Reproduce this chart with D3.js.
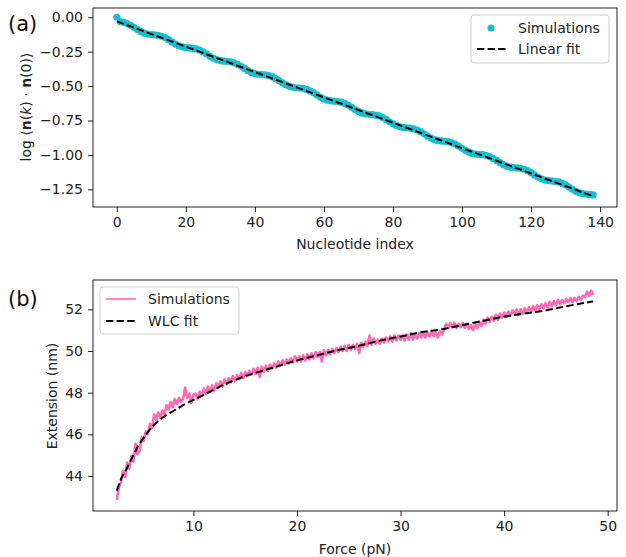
<!DOCTYPE html>
<html><head><meta charset="utf-8">
<script src="https://cdn.jsdelivr.net/npm/d3@7"></script>
<style>
body{margin:0;background:#fff;}
svg text{font-family:"DejaVu Sans",sans-serif;}
</style></head>
<body><svg id="c" width="626" height="557"></svg>
<script>
// ---------- Panel (a) data ----------
const nucleotideIndex = d3.range(0, 139);
const correlationLog = [
 0.000,-0.032,-0.037,-0.046,-0.059,-0.074,-0.090,-0.105,-0.116,-0.122,
-0.126,-0.128,-0.131,-0.138,-0.148,-0.163,-0.179,-0.195,-0.207,-0.216,
-0.221,-0.223,-0.226,-0.230,-0.239,-0.252,-0.267,-0.284,-0.298,-0.309,
-0.315,-0.319,-0.321,-0.324,-0.331,-0.342,-0.356,-0.372,-0.388,-0.401,
-0.409,-0.414,-0.416,-0.419,-0.424,-0.432,-0.445,-0.461,-0.477,-0.491,
-0.502,-0.509,-0.512,-0.514,-0.517,-0.524,-0.535,-0.549,-0.565,-0.581,
-0.594,-0.602,-0.607,-0.610,-0.612,-0.617,-0.626,-0.638,-0.654,-0.670,
-0.684,-0.695,-0.702,-0.705,-0.707,-0.711,-0.717,-0.728,-0.742,-0.759,
-0.774,-0.787,-0.796,-0.800,-0.803,-0.805,-0.810,-0.819,-0.831,-0.847,
-0.863,-0.878,-0.888,-0.895,-0.898,-0.901,-0.904,-0.910,-0.921,-0.936,
-0.952,-0.967,-0.980,-0.989,-0.994,-0.996,-0.998,-1.003,-1.012,-1.025,
-1.040,-1.056,-1.071,-1.082,-1.088,-1.092,-1.094,-1.097,-1.104,-1.114,
-1.129,-1.145,-1.161,-1.173,-1.182,-1.187,-1.189,-1.192,-1.196,-1.205,
-1.218,-1.233,-1.250,-1.264,-1.275,-1.281,-1.285,-1.287,-1.290];
const linearFitX = [0, 138];
const linearFitY = [-0.030, -1.300];
const aXTicks = [0,20,40,60,80,100,120,140];
const aYTicks = [0,-0.25,-0.5,-0.75,-1.0,-1.25];

// ---------- Panel (b) data ----------
const simForceStart = 2.6, simForceStep = 0.2;
const simExtension = [
42.85,43.45,43.70,44.25,43.95,44.65,44.35,44.95,44.70,45.55,45.05,45.20,45.85,45.70,46.15,46.00,46.50,46.30,
46.95,46.70,47.05,46.80,47.15,46.95,47.40,47.20,47.55,47.30,47.70,47.45,47.75,47.55,47.70,48.25,47.75,47.95,47.50,47.90,
47.95,47.70,48.05,47.85,48.20, 47.95,48.30,48.05,48.35,48.10, 48.45,48.25,48.55,48.30,48.65, 48.40,48.70,48.50,48.80,48.55,
48.85,48.65,48.95,48.70,49.00, 48.80,49.05,48.85,49.15,48.90, 49.20,48.75,49.25,49.00,49.30, 49.05,49.35,49.15,49.40,49.20,
49.50,49.30,49.55,49.35,49.60, 49.40,49.65,49.45,49.75,49.50,
49.75,49.50,49.80,49.55,49.85, 49.60,49.90,49.65,49.95,49.70, 49.95,49.50,50.05,49.80,50.05, 49.85,50.10,49.90,50.15,49.95,
50.20,50.00,50.25,50.00,50.30, 50.05,50.30,50.10,50.35,49.90, 50.40,50.20,50.45,50.25,50.75, 50.30,50.60,50.35,50.55,50.35,
50.60,50.40,50.65,50.45,50.70, 50.45,50.75,50.50,50.75,50.55,
50.75,50.50,50.80,50.55,50.85, 50.55,50.80,50.60,50.85,50.65, 50.90,50.65,50.90,50.70,50.95, 50.70,50.90,50.65,50.95,50.80,
51.05,51.30,51.10,51.35,51.15, 51.35,51.10,51.30,51.15,51.35, 51.10,51.30,51.05,51.25,51.00, 51.30,51.10,51.40,51.20,51.50,
51.30,51.60,51.40,51.65,51.45, 51.75,51.50,51.80,51.60,51.85,
51.65,51.90,51.70,51.95,51.75, 52.00,51.75,52.00,51.80,52.05, 51.85,52.10,51.90,52.15,51.95, 52.20,52.00,52.25,52.05,52.30,
52.10,52.35,52.15,52.40,52.20, 52.45,52.25,52.45,52.30,52.50, 52.35,52.55,52.35,52.55,52.40, 52.60,52.45,52.65,52.60,52.85,
52.65,52.90,52.70];
const wlcForce = [2.6,3.0,3.5,4.0,4.5,5.0,5.5,6.0,7.0,8.0,9.0,10,11,12,13,14,15,16,18,20,22,24,26,28,30,32,34,36,38,40,42,44,46,48.6];
const wlcExtension = [43.30,43.85,44.30,44.80,45.30,45.70,46.05,46.35,46.80,47.10,47.40,47.65,47.90,48.15,48.40,48.60,48.80,48.95,49.25,49.55,49.80,50.05,50.25,50.50,50.70,50.90,51.05,51.25,51.45,51.65,51.80,51.95,52.15,52.38];
const bXTicks = [10,20,30,40,50];
const bYTicks = [44,46,48,50,52];

const CYAN = "#17becf", PINK = "#ff69b4";
const svg = d3.select("#c");

function frame(g, x0, y0, x1, y1){
  g.append("rect").attr("x",x0).attr("y",y0).attr("width",x1-x0).attr("height",y1-y0)
   .attr("fill","none").attr("stroke","#222").attr("stroke-width",1);
}
function styleAxis(sel){
  sel.select(".domain").remove();
  sel.selectAll(".tick line").attr("stroke","#222");
  sel.selectAll(".tick text").attr("font-size",14).attr("fill","#222").attr("font-family","DejaVu Sans");
}

// ===== Panel (a) =====
const ax = d3.scaleLinear().domain([-6.9,144.9]).range([93,617]);
const ay = d3.scaleLinear().domain([-1.378,0.067]).range([207,8]);
const ga = svg.append("g");
ga.append("g").attr("transform","translate(0,207)")
  .call(d3.axisBottom(ax).tickValues(aXTicks).tickSize(5).tickPadding(5).tickFormat(d3.format("d"))).call(styleAxis);
ga.append("g").attr("transform","translate(93,0)")
  .call(d3.axisLeft(ay).tickValues(aYTicks).tickSize(5).tickPadding(5).tickFormat(d3.format(".2f"))).call(styleAxis);
ga.append("g").selectAll("circle").data(nucleotideIndex).join("circle")
  .attr("cx",d=>ax(d)).attr("cy",(d,i)=>ay(correlationLog[i])).attr("r",3.6).attr("fill",CYAN);
ga.append("path").datum(linearFitX.map((x,i)=>[x,linearFitY[i]]))
  .attr("d",d3.line().x(d=>ax(d[0])).y(d=>ay(d[1])))
  .attr("fill","none").attr("stroke","#000").attr("stroke-width",2).attr("stroke-dasharray","7.4,3.2");
frame(ga,93,8,617,207);
ga.append("text").attr("x",355).attr("y",249).attr("text-anchor","middle").attr("font-size",14).attr("fill","#222").text("Nucleotide index");
const yl = ga.append("text").attr("transform","translate(31,107) rotate(-90)").attr("text-anchor","middle").attr("font-size",14).attr("fill","#222");
yl.append("tspan").text("log \u27E8");
yl.append("tspan").attr("font-weight","bold").text("n");
yl.append("tspan").text("(");
yl.append("tspan").attr("font-style","italic").text("k");
yl.append("tspan").text(") \u00B7 ");
yl.append("tspan").attr("font-weight","bold").text("n");
yl.append("tspan").text("(0)\u27E9");
// legend a
const la = ga.append("g");
la.append("rect").attr("x",471).attr("y",15).attr("width",138).attr("height",48).attr("rx",3)
  .attr("fill","#fff").attr("fill-opacity",0.8).attr("stroke","#ccc");
la.append("circle").attr("cx",491).attr("cy",28).attr("r",3.6).attr("fill",CYAN);
la.append("line").attr("x1",477).attr("x2",507).attr("y1",49).attr("y2",49)
  .attr("stroke","#000").attr("stroke-width",2).attr("stroke-dasharray","7.4,3.2");
la.append("text").attr("x",518).attr("y",33).attr("font-size",14).attr("fill","#222").text("Simulations");
la.append("text").attr("x",518).attr("y",54).attr("font-size",14).attr("fill","#222").text("Linear fit");
ga.append("text").attr("x",8).attr("y",31).attr("font-size",21).attr("font-family","Lato").attr("fill","#111").text("(a)");

// ===== Panel (b) =====
const bx = d3.scaleLinear().domain([0.3,50.9]).range([93,617]);
const by = d3.scaleLinear().domain([42.32,53.41]).range([511,280]);
const gb = svg.append("g");
gb.append("g").attr("transform","translate(0,511)")
  .call(d3.axisBottom(bx).tickValues(bXTicks).tickSize(5).tickPadding(5).tickFormat(d3.format("d"))).call(styleAxis);
gb.append("g").attr("transform","translate(93,0)")
  .call(d3.axisLeft(by).tickValues(bYTicks).tickSize(5).tickPadding(5).tickFormat(d3.format("d"))).call(styleAxis);
gb.append("path").datum(simExtension)
  .attr("d",d3.line().x((d,i)=>bx(simForceStart+i*simForceStep)).y(d=>by(d)))
  .attr("fill","none").attr("stroke",PINK).attr("stroke-width",2.6).attr("stroke-linejoin","round");
gb.append("path").datum(wlcForce.map((f,i)=>[f,wlcExtension[i]]))
  .attr("d",d3.line().curve(d3.curveMonotoneX).x(d=>bx(d[0])).y(d=>by(d[1])))
  .attr("fill","none").attr("stroke","#000").attr("stroke-width",2).attr("stroke-dasharray","7.4,3.2");
frame(gb,93,280,617,511);
gb.append("text").attr("x",355).attr("y",554).attr("text-anchor","middle").attr("font-size",14).attr("fill","#222").text("Force (pN)");
gb.append("text").attr("transform","translate(57,396) rotate(-90)").attr("text-anchor","middle").attr("font-size",14).attr("fill","#222").text("Extension (nm)");
const lb = gb.append("g");
lb.append("rect").attr("x",100).attr("y",287).attr("width",139).attr("height",47).attr("rx",3)
  .attr("fill","#fff").attr("fill-opacity",0.8).attr("stroke","#ccc");
lb.append("line").attr("x1",106).attr("x2",136).attr("y1",299).attr("y2",299).attr("stroke",PINK).attr("stroke-width",1.6);
lb.append("line").attr("x1",106).attr("x2",136).attr("y1",321).attr("y2",321)
  .attr("stroke","#000").attr("stroke-width",2).attr("stroke-dasharray","7.4,3.2");
lb.append("text").attr("x",148).attr("y",304).attr("font-size",14).attr("fill","#222").text("Simulations");
lb.append("text").attr("x",148).attr("y",326).attr("font-size",14).attr("fill","#222").text("WLC fit");
gb.append("text").attr("x",8).attr("y",306).attr("font-size",21).attr("font-family","Lato").attr("fill","#111").text("(b)");
</script></body></html>
